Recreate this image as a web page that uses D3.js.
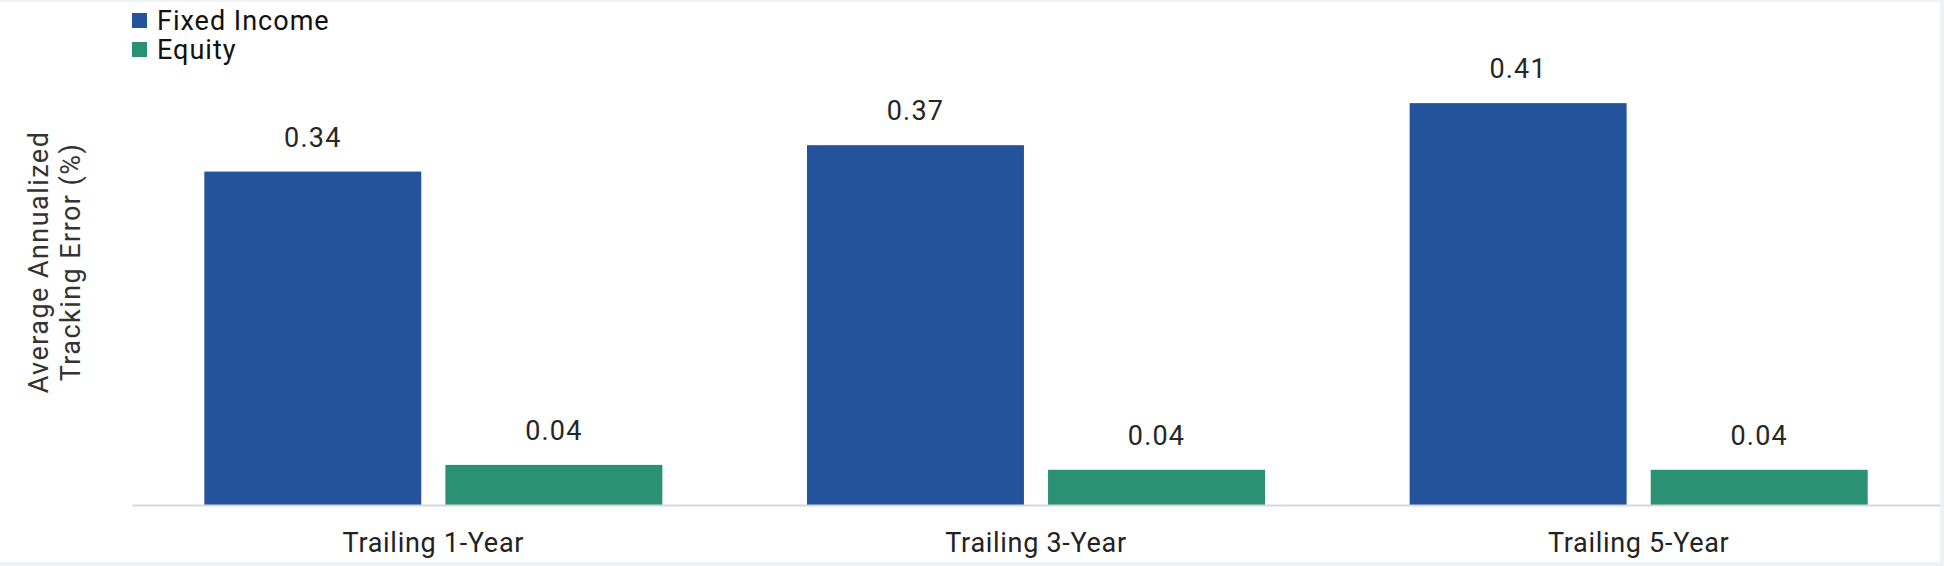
<!DOCTYPE html>
<html>
<head>
<meta charset="utf-8">
<script src="https://cdn.jsdelivr.net/npm/d3@7"></script>
<style>
  body { margin: 0; background: #fff; }
  svg { display: block; font-family: Roboto, "Liberation Sans", sans-serif; }
</style>
</head>
<body>
<svg id="chart" width="1944" height="566"></svg>
<script>
// chart data
const categories = ["Trailing 1-Year", "Trailing 3-Year", "Trailing 5-Year"];
const seriesNames = ["Fixed Income", "Equity"];
const fixedIncome = [0.341, 0.368, 0.411];
const equity = [0.041, 0.036, 0.036];
const seriesColors = ["#23539b", "#2a9173"];

const width = 1944;
const height = 566;
const margin = { top: 65, right: 4, bottom: 61, left: 132 };

const svg = d3.select("#chart");

// light frame round the panel
svg.append("rect").attr("x", 0).attr("y", 0).attr("width", width).attr("height", height).attr("fill", "#f0f1f3");
svg.append("rect").attr("x", 0).attr("y", 2).attr("width", width - 4).attr("height", height - 6).attr("fill", "#fff");

const rows = categories.map((c, i) => ({ category: c, values: [fixedIncome[i], equity[i]] }));

const x0 = d3
  .scaleBand()
  .domain(categories)
  .range([margin.left, width - margin.right])
  .paddingInner(0.24)
  .paddingOuter(0.12);

const x1 = d3
  .scaleBand()
  .domain(seriesNames)
  .range([0, x0.bandwidth()])
  .paddingInner(0.1);

const y = d3
  .scaleLinear()
  .domain([0, 0.45])
  .range([height - margin.bottom, margin.top]);

// bars
const groups = svg
  .append("g")
  .selectAll("g")
  .data(rows)
  .join("g")
  .attr("transform", (d) => `translate(${x0(d.category)},0)`);

groups
  .selectAll("rect")
  .data((d) => d.values.map((v, i) => ({ name: seriesNames[i], value: v, i })))
  .join("rect")
  .attr("x", (d) => x1(d.name))
  .attr("y", (d) => y(d.value))
  .attr("width", x1.bandwidth())
  .attr("height", (d) => y(0) - y(d.value))
  .attr("fill", (d) => seriesColors[d.i]);

// value labels
groups
  .selectAll("text")
  .data((d) => d.values.map((v, i) => ({ name: seriesNames[i], value: v })))
  .join("text")
  .attr("x", (d) => x1(d.name) + x1.bandwidth() / 2)
  .attr("y", (d) => y(d.value) - 25)
  .attr("text-anchor", "middle")
  .attr("font-size", 27)
  .attr("letter-spacing", 1.2)
  .attr("fill", "#262626")
  .text((d) => d.value.toFixed(2));

// x axis
const xAxis = svg
  .append("g")
  .attr("transform", `translate(0,${y(0)})`)
  .call(d3.axisBottom(x0).tickSize(0).tickPadding(28));

xAxis.select(".domain").attr("stroke", "#d5d8dc").attr("stroke-width", 2);
xAxis
  .selectAll("text")
  .attr("font-size", 27)
  .attr("letter-spacing", 0.7)
  .attr("font-family", "Roboto, sans-serif")
  .attr("fill", "#222");

// y axis title
svg
  .append("text")
  .attr("transform", `translate(48,262) rotate(-90)`)
  .attr("text-anchor", "middle")
  .attr("font-size", 27)
  .attr("letter-spacing", 1.45)
  .attr("fill", "#333")
  .selectAll("tspan")
  .data(["Average Annualized", "Tracking Error (%)"])
  .join("tspan")
  .attr("x", 0)
  .attr("dy", (d, i) => (i === 0 ? 0 : 32))
  .text((d) => d);

// legend
const legend = svg
  .append("g")
  .selectAll("g")
  .data(seriesNames)
  .join("g")
  .attr("transform", (d, i) => `translate(132,${13 + i * 29})`);

legend
  .append("rect")
  .attr("width", 15)
  .attr("height", 15)
  .attr("fill", (d, i) => seriesColors[i]);

legend
  .append("text")
  .attr("x", 25)
  .attr("y", 17)
  .attr("font-size", 27)
  .attr("letter-spacing", 1)
  .attr("fill", "#111")
  .text((d) => d);
</script>
</body>
</html>
